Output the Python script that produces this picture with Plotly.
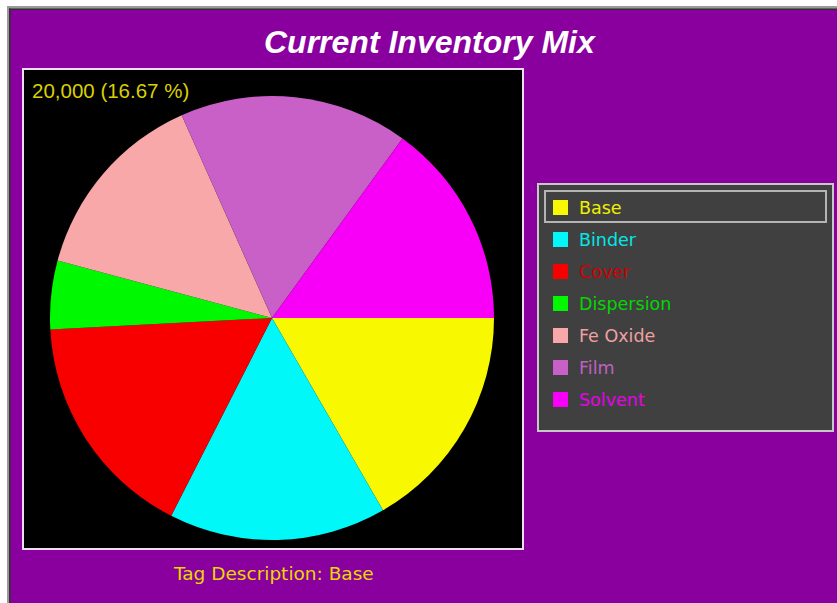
import plotly.graph_objects as go

# Inventory by tag (units)
labels = ["Base", "Binder", "Cover", "Dispersion", "Fe Oxide", "Film", "Solvent"]
values = [20000, 19000, 20000, 6000, 17000, 20000, 18000]
slice_colors = ["#F8F800", "#00F8F8", "#F80000", "#00F800", "#F8A8A8", "#C860C8", "#F800F8"]
text_colors = ["#F0F000", "#00E8E8", "#D00000", "#00D800", "#F0A0A0", "#C060C0", "#E800E8"]

selected = 0
W, H = 837, 603
PURPLE = "#8A009E"


def px(x):
    return x / W


def py(y):
    return 1 - y / H


total = sum(values)
sel_pct = values[selected] / total * 100

fig = go.Figure()
fig.add_trace(go.Pie(
    labels=labels,
    values=values,
    marker=dict(colors=slice_colors, line=dict(width=0)),
    sort=False,
    direction="clockwise",
    rotation=90,
    textinfo="none",
    hoverinfo="label+value+percent",
    showlegend=False,
    domain=dict(x=[px(50), px(494)], y=[py(540), py(96)]),
))

shapes = []
# window frame: white edge and sunken border
shapes.append(dict(type="rect", xref="paper", yref="paper", x0=0, x1=1, y0=py(6), y1=1,
                   fillcolor="white", line=dict(width=0), layer="below"))
shapes.append(dict(type="rect", xref="paper", yref="paper", x0=0, x1=px(7), y0=0, y1=1,
                   fillcolor="white", line=dict(width=0), layer="below"))
shapes.append(dict(type="rect", xref="paper", yref="paper", x0=px(7), x1=1, y0=py(9), y1=py(6),
                   fillcolor="#9A9A9A", line=dict(width=0), layer="below"))
shapes.append(dict(type="rect", xref="paper", yref="paper", x0=px(7), x1=px(10), y0=0, y1=py(6),
                   fillcolor="#9A9A9A", line=dict(width=0), layer="below"))
shapes.append(dict(type="rect", xref="paper", yref="paper", x0=px(9), x1=1, y0=py(10), y1=py(8.5),
                   fillcolor="#303030", line=dict(width=0), layer="below"))
shapes.append(dict(type="rect", xref="paper", yref="paper", x0=px(9), x1=px(10.5), y0=0, y1=py(8.5),
                   fillcolor="#303030", line=dict(width=0), layer="below"))

# black chart panel
shapes.append(dict(type="rect", xref="paper", yref="paper", x0=px(23), x1=px(523), y0=py(549), y1=py(69),
                   fillcolor="black", line=dict(color="#EEDDF4", width=2), layer="below"))

# legend panel
shapes.append(dict(type="rect", xref="paper", yref="paper", x0=px(538), x1=px(833), y0=py(431), y1=py(184),
                   fillcolor="#404040", line=dict(color="#C8C8C8", width=2), layer="below"))
row0, step = 208, 32
sel_y = row0 + selected * step
shapes.append(dict(type="rect", xref="paper", yref="paper", x0=px(545), x1=px(826),
                   y0=py(sel_y + 14), y1=py(sel_y - 17),
                   fillcolor="rgba(0,0,0,0)", line=dict(color="#B4B4B4", width=2), layer="below"))

annotations = []
for i, (lab, col, tcol) in enumerate(zip(labels, slice_colors, text_colors)):
    yc = row0 + i * step
    shapes.append(dict(type="rect", xref="paper", yref="paper", x0=px(553), x1=px(568),
                       y0=py(yc + 7), y1=py(yc - 8),
                       fillcolor=col, line=dict(width=0), layer="below"))
    annotations.append(dict(x=px(577), y=py(yc), xref="paper", yref="paper", text=lab,
                            showarrow=False, xanchor="left", yanchor="middle",
                            font=dict(family="DejaVu Sans", size=17.5, color=tcol)))

# title
annotations.append(dict(x=px(430), y=py(42), xref="paper", yref="paper",
                        text="<b><i>Current Inventory Mix</i></b>", showarrow=False,
                        xanchor="center", yanchor="middle",
                        font=dict(family="Liberation Sans", size=32, color="white")))
# selected slice value
annotations.append(dict(x=px(30), y=py(91), xref="paper", yref="paper",
                        text=f"{values[selected]:,} ({sel_pct:.2f} %)", showarrow=False,
                        xanchor="left", yanchor="middle",
                        font=dict(family="Liberation Sans", size=20.5, color="#D8D000")))
# caption
annotations.append(dict(x=px(273), y=py(573), xref="paper", yref="paper",
                        text=f"Tag Description: {labels[selected]}", showarrow=False,
                        xanchor="center", yanchor="middle",
                        font=dict(family="DejaVu Sans", size=18.5, color="#E8D800")))

fig.update_layout(
    width=W, height=H,
    margin=dict(l=0, r=0, t=0, b=0),
    paper_bgcolor=PURPLE,
    plot_bgcolor=PURPLE,
    shapes=shapes,
    annotations=annotations,
)

fig.write_html("out.html")
